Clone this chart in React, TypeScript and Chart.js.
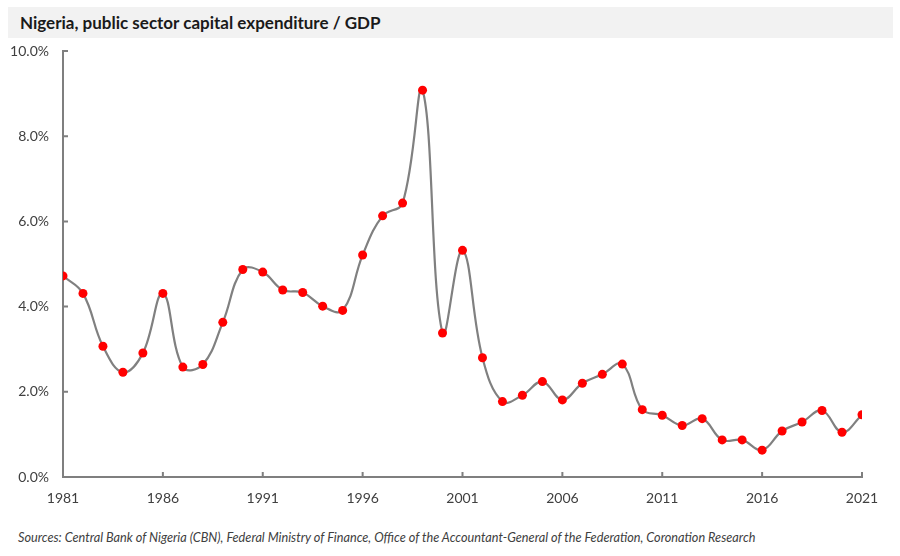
import { useEffect, useRef } from 'react'
import { Chart, registerables } from 'chart.js'
import type { ChartConfiguration, Plugin } from 'chart.js'

Chart.register(...registerables)

const years = [
  1981, 1982, 1983, 1984, 1985, 1986, 1987, 1988, 1989, 1990,
  1991, 1992, 1993, 1994, 1995, 1996, 1997, 1998, 1999, 2000,
  2001, 2002, 2003, 2004, 2005, 2006, 2007, 2008, 2009, 2010,
  2011, 2012, 2013, 2014, 2015, 2016, 2017, 2018, 2019, 2020, 2021,
]

// capital expenditure as % of GDP
const capexShare = [
  4.72, 4.31, 3.07, 2.46, 2.91, 4.31, 2.58, 2.64, 3.63, 4.87,
  4.81, 4.39, 4.33, 4.01, 3.91, 5.21, 6.13, 6.43, 9.08, 3.38,
  5.32, 2.80, 1.77, 1.92, 2.24, 1.81, 2.20, 2.41, 2.65, 1.58,
  1.45, 1.21, 1.37, 0.87, 0.87, 0.63, 1.08, 1.29, 1.56, 1.05, 1.46,
]

const yTicks = [0, 2, 4, 6, 8, 10]

const AXIS_GREY = '#7f7f7f'
const LABEL_COLOR = '#404040'
const FONT = 'Lato, "Open Sans", sans-serif'

// Excel-style ticks that point into the plot area
const innerTicks: Plugin<'line'> = {
  id: 'innerTicks',
  afterDraw(chart) {
    const { ctx, chartArea, scales } = chart
    ctx.save()
    ctx.strokeStyle = AXIS_GREY
    ctx.lineWidth = 2
    ctx.beginPath()
    for (const t of scales.x.ticks) {
      const px = scales.x.getPixelForValue(t.value)
      ctx.moveTo(px, chartArea.bottom)
      ctx.lineTo(px, chartArea.bottom - 5)
    }
    for (const t of scales.y.ticks) {
      const py = scales.y.getPixelForValue(t.value)
      ctx.moveTo(chartArea.left, py)
      ctx.lineTo(chartArea.left + 5, py)
    }
    ctx.stroke()
    ctx.restore()
  },
}

export default function App() {
  const canvasRef = useRef<HTMLCanvasElement>(null)

  useEffect(() => {
    if (!canvasRef.current) return

    const config: ChartConfiguration<'line'> = {
      type: 'line',
      data: {
        datasets: [
          {
            label: 'Capex / GDP',
            data: years.map((y, i) => ({ x: y, y: capexShare[i] })),
            borderColor: '#808080',
            borderWidth: 2.2,
            tension: 0.4,
            pointRadius: 4.5,
            pointBackgroundColor: '#ff0000',
            pointBorderColor: '#ff0000',
            pointBorderWidth: 0,
            fill: false,
          },
        ],
      },
      options: {
        responsive: false,
        animation: false,
        layout: { padding: { top: 13, right: 38, left: 0, bottom: 0 } },
        plugins: {
          legend: { display: false },
          tooltip: { enabled: false },
        },
        scales: {
          x: {
            type: 'linear',
            min: 1981,
            max: 2021,
            afterFit: (scale) => {
              scale.height = 41
            },
            ticks: {
              stepSize: 5,
              padding: 13,
              color: LABEL_COLOR,
              font: { family: FONT, size: 14 },
              maxRotation: 0,
              callback: (v) => String(v),
            },
            grid: { display: false, drawTicks: false },
            border: { display: true, color: AXIS_GREY, width: 2 },
          },
          y: {
            type: 'linear',
            min: 0,
            max: 10,
            afterFit: (scale) => {
              scale.width = 63
              // keep the label padding from pushing the plot down
              scale.paddingTop = 0
              scale.paddingBottom = 0
            },
            afterBuildTicks: (scale) => {
              scale.ticks = yTicks.map((value) => ({ value }))
            },
            ticks: {
              padding: 14,
              color: LABEL_COLOR,
              font: { family: FONT, size: 14 },
              callback: (v) => Number(v).toFixed(1) + '%',
            },
            grid: { display: false, drawTicks: false },
            border: { display: true, color: AXIS_GREY, width: 2 },
          },
        },
      },
      plugins: [innerTicks],
    }

    const chart = new Chart(canvasRef.current, config)
    return () => chart.destroy()
  }, [])

  return (
    <div
      style={{
        position: 'fixed',
        left: 0,
        top: 0,
        width: 900,
        height: 556,
        background: '#ffffff',
        fontFamily: FONT,
      }}
    >
      <div
        style={{
          position: 'absolute',
          left: 8,
          top: 7,
          width: 885,
          height: 31,
          background: '#f2f2f2',
          boxSizing: 'border-box',
          paddingLeft: 12,
          lineHeight: '31px',
          fontSize: 17,
          fontWeight: 700,
          color: '#1a1a1a',
        }}
      >
        Nigeria, public sector capital expenditure / GDP
      </div>
      <canvas
        ref={canvasRef}
        width={900}
        height={480}
        style={{ position: 'absolute', left: 0, top: 38, width: 900, height: 480 }}
      />
      <div
        style={{
          position: 'absolute',
          left: 18,
          top: 529,
          fontSize: 12.7,
          fontStyle: 'italic',
          color: LABEL_COLOR,
          whiteSpace: 'nowrap',
        }}
      >
        Sources: Central Bank of Nigeria (CBN), Federal Ministry of Finance, Office of the
        Accountant-General of the Federation, Coronation Research
      </div>
    </div>
  )
}
